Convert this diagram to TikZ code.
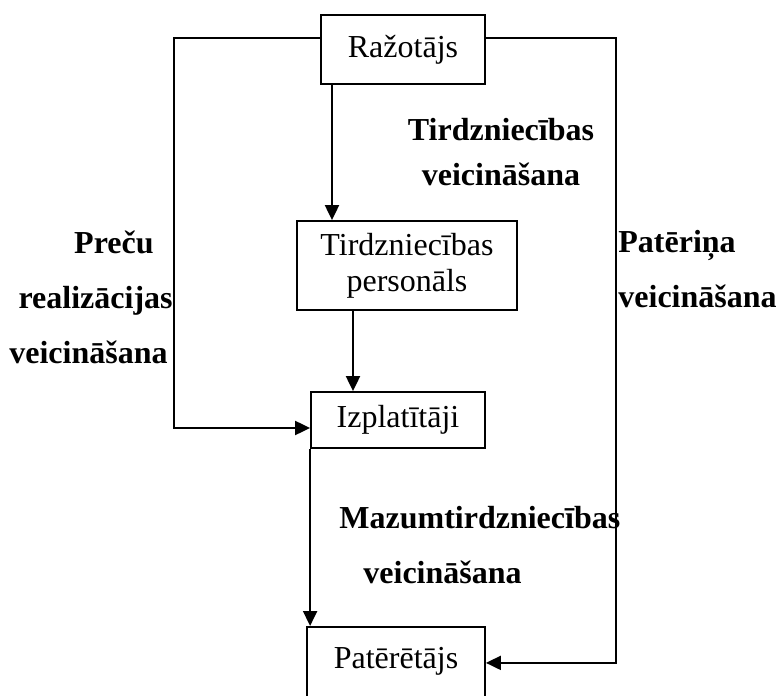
\documentclass[tikz,border=0pt]{standalone}
\usepackage{fontspec}
\setmainfont{Liberation Serif}
\usetikzlibrary{arrows.meta,positioning}

\begin{document}
\begin{tikzpicture}[x=0.5pt,y=-0.5pt,font=\fontsize{16pt}{18pt}\selectfont,
      blk/.style={draw,line width=0.9pt,align=center,inner sep=1pt},
      arr/.style={-{Triangle[length=7.5pt,width=7pt]},line width=1pt},
      lbl/.style={font=\fontsize{16pt}{27.5pt}\selectfont\bfseries,inner sep=0pt}]
      \useasboundingbox (0,0) rectangle (784,696);
      \node[blk,minimum width=82pt,minimum height=34.5pt] (raz) at (403,49.5) {Ražotājs};
      \node[blk,minimum width=110pt,minimum height=44.5pt] (pers) at (407,265.5) {Tirdzniecības\\personāls};
      \node[blk,minimum width=87pt,minimum height=28pt] (izpl) at (398,420) {Izplatītāji};
      \node[blk,minimum width=89pt,text height=11pt,text depth=10pt,inner ysep=10pt,anchor=north] (pat) at (396,626) {Patērētājs};
      % labels
      \node[lbl,align=center,font=\fontsize{16pt}{22.5pt}\selectfont\bfseries] (tirgv) at (501,152.5) {Tirdzniecības\\veicināšana};
      \node[lbl,align=right,anchor=east] (precv) at (173,297) {Preču\hspace*{9.5pt}\\realizācijas\\veicināšana\hspace*{2.5pt}};
      \node[lbl,align=left,anchor=west] (patv) at (618,269.5) {Patēriņa\\veicināšana};
      \node[lbl,align=left,anchor=west] (mazv) at (339,545.5) {Mazumtirdzniecības\\\hspace*{12pt}veicināšana};
      % connectors
      \draw[arr] ([yshift=5.75pt]raz.west) -- ++(-146,0) |- ([yshift=-4pt]izpl.west);
      \draw[arr] ([yshift=5.75pt]raz.east) -- ++(130,0) |- ([yshift=2.5pt]pat.east);
      \draw[arr] ([xshift=-35.5pt]raz.south) -- ([xshift=-35.5pt]raz.south |- pers.north);
      \draw[arr] ([xshift=-27pt]pers.south) -- ([xshift=-27pt]pers.south |- izpl.north);
      \draw[arr] (izpl.south west) -- (izpl.south west |- pat.north);
    \end{tikzpicture}
\end{document}
